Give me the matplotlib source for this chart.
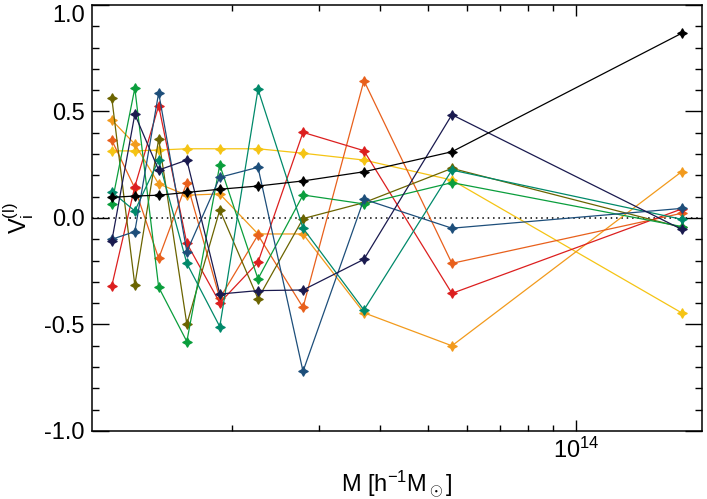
import matplotlib
matplotlib.use("Agg")
import matplotlib.pyplot as plt
from matplotlib.ticker import FixedLocator, NullFormatter, FixedFormatter

plt.rcParams['font.family'] = ['Liberation Sans', 'DejaVu Sans']
plt.rcParams['mathtext.fontset'] = 'custom'
plt.rcParams['mathtext.rm'] = 'Liberation Sans'
plt.rcParams['mathtext.it'] = 'Liberation Sans:italic'

# halo mass bins
mass = [1.14e13, 1.27e13, 1.42e13, 1.62e13, 1.89e13, 2.26e13, 2.79e13, 3.71e13, 5.60e13, 1.64e14]

black = [0.097, 0.103, 0.107, 0.12, 0.135, 0.15, 0.174, 0.217, 0.311, 0.867]
navy = [-0.11, 0.487, 0.225, 0.272, -0.357, -0.341, -0.338, -0.194, 0.485, -0.053]
blue = [-0.10, -0.064, 0.588, -0.158, 0.191, 0.238, -0.72, 0.088, -0.048, 0.045]
teal = [0.123, 0.033, 0.272, -0.213, -0.51, 0.604, -0.048, -0.432, 0.225, -0.006]
green = [0.066, 0.609, -0.325, -0.58, 0.249, -0.286, 0.108, 0.066, 0.166, -0.04]
olive = [0.565, -0.315, 0.371, -0.498, 0.038, -0.379, -0.003, 0.072, 0.233, -0.044]
dkorange = [0.366, 0.14, -0.19, 0.166, -0.377, -0.08, -0.42, 0.645, -0.213, 0.022]
red = [-0.32, 0.147, 0.527, -0.119, -0.398, -0.208, 0.402, 0.316, -0.354, 0.042]
yellow = [0.315, 0.315, 0.319, 0.325, 0.325, 0.325, 0.304, 0.272, 0.178, -0.445]
ltorange = [0.46, 0.347, 0.16, 0.107, 0.113, -0.075, -0.075, -0.445, -0.60, 0.217]

series = [
    (yellow, '#f5c414'),
    (ltorange, '#f29a1c'),
    (dkorange, '#e8601c'),
    (red, '#dc1f1f'),
    (olive, '#6b6400'),
    (green, '#0a9e3c'),
    (teal, '#00896a'),
    (blue, '#1d4e7a'),
    (navy, '#1a1a4f'),
    (black, '#000000'),
]

fig = plt.figure(figsize=(7.07, 4.99), dpi=100)
ax = fig.add_axes([0.130, 0.1363, 0.863, 0.8537])

ax.axhline(0, color='black', ls=(0, (1, 2.5)), lw=1.1, zorder=1)

for vals, c in series:
    ax.plot(mass, vals, '-', color=c, lw=0.9, marker=(4, 1, 0), ms=7,
            mew=0.8, mec=c, mfc=c, zorder=2)

ax.set_xscale('log')
ax.set_xlim(1.039e13, 1.805e14)
ax.set_ylim(-1.0, 1.0)

ax.xaxis.set_major_locator(FixedLocator([1e14]))
ax.xaxis.set_major_formatter(FixedFormatter([r'$10^{14}$']))
ax.xaxis.set_minor_locator(FixedLocator([k * 1e13 for k in range(2, 10)]))
ax.xaxis.set_minor_formatter(NullFormatter())

ax.set_yticks([-1.0, -0.5, 0.0, 0.5, 1.0])
ax.set_yticklabels(['-1.0', '-0.5', '0.0', '0.5', '1.0'])
ax.yaxis.set_minor_locator(FixedLocator([i / 10 for i in range(-10, 11)]))
# keep the top label inside the figure
ax.get_yticklabels()[-1].set_verticalalignment('top')

ax.tick_params(which='both', direction='in', top=True, right=True, labelsize=17, width=1)
ax.tick_params(axis='y', which='major', length=12, pad=5)
ax.tick_params(axis='y', which='minor', length=5)
ax.tick_params(axis='x', which='major', length=8, pad=5)
ax.tick_params(axis='x', which='minor', length=4)
for s in ax.spines.values():
    s.set_linewidth(1.1)

ax.set_xlabel(r'M [h$^{-1}$M$_\odot$]', fontsize=17, labelpad=4)
ax.set_ylabel(r'V$_\mathrm{i}^{(\mathrm{l})}$', fontsize=17, labelpad=6)

fig.savefig('out.png', dpi=100)
